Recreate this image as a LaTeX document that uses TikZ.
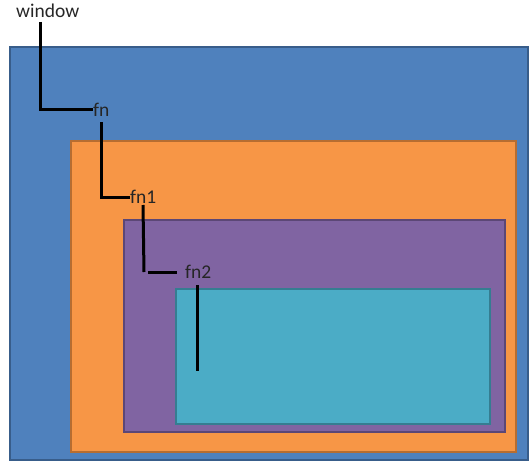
\documentclass[tikz,border=0pt]{standalone}
\usepackage{fontspec}
\setmainfont{Carlito}
\definecolor{cblue}{HTML}{4F81BD}
\definecolor{cblueb}{HTML}{385D8A}
\definecolor{corange}{HTML}{F79646}
\definecolor{coranb}{HTML}{B66D31}
\definecolor{cpurple}{HTML}{8064A2}
\definecolor{cpurpb}{HTML}{5C4776}
\definecolor{cteal}{HTML}{4BACC6}
\definecolor{ctealb}{HTML}{357D91}
\tikzset{
  box/.style={line width=2pt},
  lbl/.style={inner sep=0pt, font=\fontsize{19.5}{21}\selectfont, text=black!85},
  lead/.style={line width=3pt, black}
}
\begin{document}
\begin{tikzpicture}[x=1pt,y=-1pt]
\useasboundingbox (0,0) rectangle (532,468);
\draw[box, fill=cblue, draw=cblueb] (10,47) rectangle (528,460);
\draw[box, fill=corange, draw=coranb] (71,141) rectangle (516,452);
\draw[box, fill=cpurple, draw=cpurpb] (124,220) rectangle (505,432);
\draw[box, fill=cteal, draw=ctealb] (176,289) rectangle (490,424);
\node[lbl, anchor=west] (window) at (16,11) {window};
\node[lbl, anchor=west] (fn) at (93,110) {fn};
\node[lbl, anchor=west] (fn1) at (130,197) {fn1};
\node[lbl, anchor=west] (fn2) at (185,272) {fn2};
\coordinate (w0) at (40,22);
\coordinate (f0) at (101,122);
\coordinate (g0) at (143,205);
\coordinate (g1) at (144,272);
\coordinate (g2) at (148,272);
\coordinate (g3) at (177,272);
\coordinate (h0) at (197,285);
\coordinate (hend) at (197,371);
\draw[lead] (w0) |- (fn.west);
\draw[lead] (f0) |- (fn1.west);
\draw[lead] (g0) -- (g1);
\draw[lead] (g2) -- (g3);
\draw[lead] (h0) -- (hend);
\end{tikzpicture}
\end{document}
